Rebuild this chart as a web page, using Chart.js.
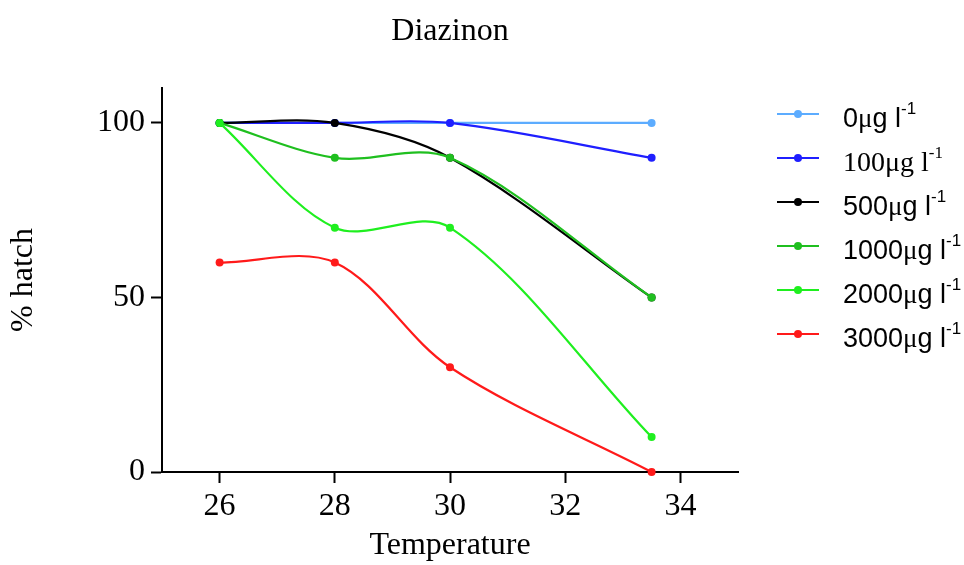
<!DOCTYPE html>
<html>
<head>
<meta charset="utf-8">
<script src="https://cdn.jsdelivr.net/npm/chart.js@4/dist/chart.umd.min.js"></script>
<style>
  html, body { margin: 0; padding: 0; background: #fff; }
  canvas { display: block; }
</style>
</head>
<body>
<canvas id="hatchChart" width="964" height="565"></canvas>
<script>
// temperatures tested and % hatch for each diazinon dose
const temps = [26, 28, 30, 33.5];
const doses = ['0', '100', '500', '1000', '2000', '3000'];
const hatch0 = [100, 100, 100, 100];
const hatch100 = [100, 100, 100, 90];
const hatch500 = [100, 100, 90, 50];
const hatch1000 = [100, 90, 90, 50];
const hatch2000 = [100, 70, 70, 10];
const hatch3000 = [60, 60, 30, 0];
const xTicks = [26, 28, 30, 32, 34];
const yTicks = [0, 50, 100];

const colors = ['#5cacff', '#1f1fff', '#000000', '#1fbf1f', '#1fef1f', '#ff1a1a'];
const allSeries = [hatch0, hatch100, hatch500, hatch1000, hatch2000, hatch3000];

const serif = "'Liberation Serif', 'Times New Roman', serif";
const sans = "'Liberation Sans', Arial, sans-serif";

const datasets = allSeries.map((vals, i) => ({
    label: doses[i] + 'μg l-1',
    data: temps.map((t, j) => ({ x: t, y: vals[j] })),
    borderColor: colors[i],
    backgroundColor: colors[i],
    borderWidth: 2.2,
    pointRadius: 4,
    pointHoverRadius: 4,
    pointBorderWidth: 0,
    tension: 0.33,
    clip: false,
    order: allSeries.length - i   // later doses sit on top
}));

// legend with superscript units, drawn on the right of the plot
const unitLegend = {
    id: 'unitLegend',
    afterDraw(chart) {
        const c = chart.ctx;
        c.save();
        datasets.forEach((ds, i) => {
            const y = 114 + i * 44;
            c.strokeStyle = ds.borderColor;
            c.fillStyle = ds.borderColor;
            c.lineWidth = 2;
            c.beginPath();
            c.moveTo(777, y);
            c.lineTo(819, y);
            c.stroke();
            c.beginPath();
            c.arc(798, y, 4, 0, Math.PI * 2);
            c.fill();

            const mainFont = i === 1 ? serif : sans;
            const size = i === 1 ? 28 : 27;
            const base = y + 13;
            let x = 843;
            c.fillStyle = '#000';
            c.textBaseline = 'alphabetic';
            c.textAlign = 'left';
            c.font = size + 'px ' + mainFont;
            c.fillText(doses[i], x, base);
            x += c.measureText(doses[i]).width;
            c.font = size + 'px ' + serif;
            c.fillText('μ', x, base);
            x += c.measureText('μ').width;
            c.font = size + 'px ' + mainFont;
            c.fillText('g l', x, base);
            x += c.measureText('g l').width;
            c.font = '17px ' + mainFont;
            c.fillText('-1', x, base - 13);
        });
        // chart title centred over the plot area
        const a = chart.chartArea;
        c.font = '32px ' + serif;
        c.textAlign = 'center';
        c.textBaseline = 'middle';
        c.fillText('Diazinon', (a.left + a.right) / 2, 32);
        c.restore();
    }
};

const axisFont = { family: serif, size: 32 };

new Chart(document.getElementById('hatchChart').getContext('2d'), {
    type: 'line',
    data: { datasets },
    options: {
        responsive: false,
        animation: false,
        layout: { padding: { top: 88, right: 226, bottom: 0, left: 0 } },
        plugins: {
            legend: { display: false },
            tooltip: { enabled: false },
            title: { display: false }
        },
        scales: {
            x: {
                type: 'linear',
                min: 25,
                max: 35,
                afterBuildTicks: s => { s.ticks = xTicks.map(v => ({ value: v })); },
                afterFit: s => { s.height = 93; },
                ticks: { color: '#000', font: axisFont, padding: 4, maxRotation: 0 },
                grid: { drawOnChartArea: false, drawTicks: true, tickLength: 11, tickColor: '#000', tickWidth: 2 },
                border: { color: '#000', width: 2 },
                title: { display: true, text: 'Temperature', color: '#000', font: axisFont, padding: { top: 0, bottom: 0 } }
            },
            y: {
                type: 'linear',
                min: 0,
                max: 110,
                afterBuildTicks: s => { s.ticks = yTicks.map(v => ({ value: v })); },
                afterFit: s => { s.width = 162; },
                ticks: { color: '#000', font: axisFont, padding: 6 },
                grid: { drawOnChartArea: false, drawTicks: true, tickLength: 11, tickColor: '#000', tickWidth: 2 },
                border: { color: '#000', width: 2 },
                title: { display: true, text: '% hatch', color: '#000', font: axisFont, padding: { top: 4, bottom: 0 } }
            }
        }
    },
    plugins: [unitLegend]
});
</script>
</body>
</html>
